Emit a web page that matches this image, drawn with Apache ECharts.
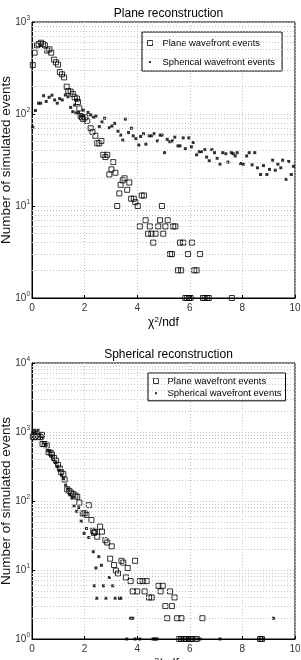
<!DOCTYPE html>
<html><head><meta charset="utf-8">
<script src="https://cdn.jsdelivr.net/npm/echarts@6/dist/echarts.min.js"></script>
<style>html,body{margin:0;padding:0;background:#fff}#c{width:301px;height:660px}</style>
</head><body><div id="c"></div>
<script>
// ---- data: [chi2/ndf, number of simulated events] ----
const titles = ['Plane reconstruction', 'Spherical reconstruction'];
const seriesNames = ['Plane wavefront events', 'Spherical wavefront events'];
const xTickValues = [0, 2, 4, 6, 8, 10];

const topPlane = [
  [0.03,340],[0.10,464],[0.19,558],[0.25,575],[0.34,595],[0.42,575],[0.49,558],[0.58,490],[0.66,505],[0.73,464],
  [0.84,390],[0.91,365],[0.99,345],[1.06,285],[1.14,270],[1.22,250],[1.32,198],[1.38,178],[1.47,175],[1.55,165],
  [1.62,152],[1.71,147],[1.75,135],[1.80,115],[1.85,95],[1.90,92],[1.95,88],[2.03,92],[2.10,84],[2.23,70],
  [2.30,64],[2.41,58],[2.48,48],[2.56,48],[2.64,51],[2.71,36],[2.79,34],[2.86,36],[2.94,22],[3.02,25],
  [3.09,30],[3.17,23],[3.24,10],[3.32,13.7],[3.37,17],[3.45,19],[3.52,20],[3.62,15],[3.70,18],[3.77,12],
  [3.87,12],[3.93,11],[4.02,10],[4.17,13],[4.26,13],[4.94,10],
  [4.10,6],[4.32,7],[4.41,5],[4.48,6],[4.54,5],[4.61,4],[4.70,5],[4.80,6],[4.87,7],[4.99,5],
  [5.07,6],[5.16,7],[5.25,3],[5.32,3],[5.37,6],[5.45,6],[5.55,2],[5.63,4],[5.67,2],[5.75,4],
  [5.93,3],[6.08,4],[6.17,2],[6.26,2],[6.39,3],
  [5.83,1],[5.90,1],[5.97,1],[6.03,1],[6.50,1],[6.57,1],[6.65,1],[6.72,1],[7.60,1]
];
const topSpherical = [
  [0.03,72],[0.13,109],[0.25,131],[0.33,131],[0.44,158],[0.54,137],[0.65,152],[0.76,160],[0.86,142],[0.96,131],
  [1.05,147],[1.15,142],[1.27,161],[1.37,154],[1.47,118],[1.55,106],[1.62,125],[1.67,103],[1.70,142],[1.77,104],
  [1.87,95],[1.95,110],[2.13,104],[2.23,98],[2.33,92],[2.43,95],[2.56,73],[2.66,82],[2.76,90],[2.94,71],
  [3.04,74],[3.14,79],[3.27,65],[3.37,59],[3.45,52],[3.55,88],[3.67,63],[3.78,70],[3.85,58],[3.95,54],
  [4.06,46],[4.13,57],[4.24,61],[4.33,47],[4.46,58],[4.54,58],[4.64,61],[4.77,51],[4.87,59],[4.94,59],
  [5.04,38],[5.14,53],[5.24,50],[5.34,51],[5.43,56],[5.55,45],[5.63,45],[5.75,55],[5.83,42],[5.96,55],
  [6.06,44],[6.13,49],[6.26,36],[6.36,39],[6.44,39],[6.57,41],[6.64,34],[6.74,31],[6.84,41],[6.94,38],
  [7.04,33],[7.15,28.5],[7.25,38],[7.37,37],[7.45,30],[7.58,38],[7.65,37],[7.73,35],[7.80,38],[7.93,29],
  [8.03,28.5],[8.16,35],[8.26,38],[8.37,28],[8.47,38],[8.57,26],[8.69,22],[8.80,27.5],[8.93,22],[9.03,25],
  [9.15,31.5],[9.25,24.5],[9.35,28.5],[9.46,26],[9.53,31.5],[9.66,19.5],[9.76,30.5],[9.86,22],[9.94,27]
];
const bottomPlane = [
  [0.03,855],[0.10,840],[0.16,870],[0.23,855],[0.33,840],[0.38,910],[0.40,670],[0.48,670],[0.56,640],[0.63,510],
  [0.71,500],[0.76,470],[0.84,420],[0.91,385],[0.99,335],[1.06,295],[1.11,262],[1.19,245],[1.24,205],[1.34,148],
  [1.42,140],[1.49,132],[1.57,126],[1.65,120],[1.72,115],[1.80,95],[1.93,66],[2.00,66],[2.07,63],[2.16,87],
  [2.26,53],[2.33,37],[2.36,34.5],[2.40,35.5],[2.48,30.4],[2.59,42.5],[2.66,36],[2.79,27],[2.86,25],[2.97,14.6],
  [3.03,22],[3.12,11.8],[3.19,9.8],[3.27,8.9],[3.40,13.6],[3.47,12.8],[3.57,7.8],[3.64,10.7],[3.75,6.9],[3.83,4.9],
  [3.92,13.6],[4.00,4.9],[4.10,6.9],[4.21,6.9],[4.28,4.9],[4.36,6.9],[4.45,4],[4.55,4],[4.81,5.9],[4.89,4.9],
  [4.97,5.9],[5.07,3],[5.14,2],[5.25,4.9],[5.32,3],[5.42,4],[5.52,2],[5.68,2],[6.48,2],
  [5.60,1],[5.68,1],[5.78,1],[5.85,1],[5.95,1],[6.02,1],[6.10,1],[6.26,1],[8.67,1],[8.74,1]
];
const bottomSpherical = [
  [0.03,980],[0.10,1060],[0.16,1000],[0.23,1060],[0.30,930],[0.36,820],[0.45,700],[0.52,660],[0.60,540],[0.68,520],
  [0.75,450],[0.82,400],[0.90,360],[0.97,320],[1.04,280],[1.12,240],[1.20,210],[1.28,170],[1.36,150],[1.44,123],
  [1.52,110],[1.60,85],[1.70,71],[1.77,80],[1.87,51],[1.98,34],[2.07,40],[2.16,29.6],[2.33,18.4],[2.43,10.7],
  [2.37,5.9],[2.46,3.9],[2.54,15.6],[2.64,11.7],[2.72,5.9],[2.81,3.9],[2.94,7.8],[3.07,5.9],[3.16,3.9],[3.32,3.9],
  [3.38,3.9],[3.75,2],[3.83,2],[9.18,2],
  [3.60,1],[3.92,1],[4.10,1],[4.60,1],[4.65,1],[4.70,1],[4.76,1],[5.63,1],[5.75,1],[5.90,1],
  [6.00,1],[6.15,1],[6.30,1],[6.39,1],[7.15,1],[8.67,1],[8.80,1]
];
const yMaxValues = [1000, 10000];

// ---- styling ----
const FONT = 'Liberation Sans, Arial, sans-serif';
const gridColor = '#c4c4c4';
const chart = echarts.init(document.getElementById('c'), null, {renderer: 'canvas'});

function minorLines(maxV) {
  const out = [];
  for (let d = 1; d < maxV; d *= 10) for (let m = 2; m <= 9; m++) out.push({yAxis: m * d});
  return out;
}
const grids = [
  {left: 32, right: 6, top: 22, height: 276},
  {left: 32, right: 6, top: 363, height: 276}
];
const plainIcon = 'path://M0,0H10V10H0Z';
const smallIcon = 'path://M0,0M10,10M3,3H7V7H3Z';

const option = {
  animation: false,
  backgroundColor: '#fff',
  textStyle: {fontFamily: FONT},
  title: [
    {text: titles[0], left: 163.5, textAlign: 'center', top: 3, textStyle: {fontFamily: FONT, fontSize: 12, fontWeight: 'normal', color: '#000'}},
    {text: titles[1], left: 163.5, textAlign: 'center', top: 344, textStyle: {fontFamily: FONT, fontSize: 12, fontWeight: 'normal', color: '#000'}}
  ],
  legend: [
    {orient: 'vertical', left: 142, top: 32, padding: [5.5, 7, 3.5, 5], itemGap: 8, itemWidth: 15, itemHeight: 5,
     backgroundColor: '#fff', borderColor: '#000', borderWidth: 1, borderRadius: 0,
     textStyle: {fontFamily: FONT, fontSize: 9.4, color: '#000', lineHeight: 11},
     data: [
       {name: seriesNames[0], icon: plainIcon, itemStyle: {color: 'rgba(0,0,0,0)', borderColor: '#000', borderWidth: 1}},
       {name: seriesNames[1], icon: smallIcon, itemStyle: {color: '#000', borderWidth: 0}}
     ]},
    {orient: 'vertical', left: 148, top: 373, padding: [2.5, 4, 2, 5], itemGap: 1.3, itemWidth: 13, itemHeight: 5,
     backgroundColor: '#fff', borderColor: '#000', borderWidth: 1, borderRadius: 0,
     textStyle: {fontFamily: FONT, fontSize: 9.5, color: '#000', lineHeight: 11},
     data: [
       {name: seriesNames[0], icon: plainIcon, itemStyle: {color: 'rgba(0,0,0,0)', borderColor: '#000', borderWidth: 1}},
       {name: seriesNames[1], icon: smallIcon, itemStyle: {color: '#000', borderWidth: 0}}
     ]}
  ],
  grid: grids.map(g => Object.assign({show: true, borderColor: '#000', borderWidth: 1, backgroundColor: 'transparent',
                                      containLabel: false, outerBoundsMode: 'none'}, g)),
  xAxis: [0, 1].map(i => ({
    gridIndex: i, type: 'value', min: xTickValues[0], max: xTickValues[xTickValues.length - 1], interval: 2,
    name: '{a|χ}{s|2}{a|/ndf}', nameLocation: 'middle', nameGap: 18, nameMoveOverlap: false,
    nameTextStyle: {rich: {
      a: {fontFamily: FONT, fontSize: 12, color: '#000', lineHeight: 14},
      s: {fontFamily: FONT, fontSize: 8, color: '#000', lineHeight: 8, verticalAlign: 'top'}
    }},
    axisLine: {show: true, lineStyle: {color: '#000', width: 1}},
    axisTick: {show: true, inside: true, length: 3, lineStyle: {color: '#000'}},
    axisLabel: {fontFamily: FONT, fontSize: 10, color: '#333', margin: 5},
    splitLine: {show: true, lineStyle: {color: gridColor, type: [1, 2], width: 1}}
  })),
  yAxis: [0, 1].map(i => ({
    gridIndex: i, type: 'log', logBase: 10, min: 1, max: yMaxValues[i],
    name: 'Number of simulated events', nameLocation: 'middle', nameGap: 19, nameMoveOverlap: false,
    nameTextStyle: {fontFamily: FONT, fontSize: 13.5, color: '#111'},
    axisLine: {show: true, lineStyle: {color: '#000', width: 1}},
    axisTick: {show: true, inside: true, length: 3, lineStyle: {color: '#000'}},
    axisLabel: {
      margin: 2,
      formatter: v => '{b|10}{s|' + Math.round(Math.log10(v)) + '}',
      rich: {
        b: {fontFamily: FONT, fontSize: 10, color: '#333', lineHeight: 14},
        s: {fontFamily: FONT, fontSize: 6.5, color: '#333', lineHeight: 7, verticalAlign: 'top'}
      }
    },
    splitLine: {show: true, lineStyle: {color: gridColor, type: [1, 2], width: 1}}
  })),
  series: [
    {name: seriesNames[0], type: 'scatter', xAxisIndex: 0, yAxisIndex: 0, data: topPlane, clip: false,
     symbol: 'rect', symbolSize: 5, itemStyle: {color: 'rgba(0,0,0,0)', borderColor: '#000', borderWidth: 1},
     markLine: {silent: true, symbol: 'none', label: {show: false}, lineStyle: {color: gridColor, type: [1, 2], width: 1}, data: minorLines(yMaxValues[0])}},
    {name: seriesNames[1], type: 'scatter', xAxisIndex: 0, yAxisIndex: 0, data: topSpherical, clip: false,
     symbol: 'rect', symbolSize: 3, itemStyle: {color: '#000'}},
    {name: seriesNames[0], type: 'scatter', xAxisIndex: 1, yAxisIndex: 1, data: bottomPlane, clip: false,
     symbol: 'rect', symbolSize: 5, itemStyle: {color: 'rgba(0,0,0,0)', borderColor: '#000', borderWidth: 1},
     markLine: {silent: true, symbol: 'none', label: {show: false}, lineStyle: {color: gridColor, type: [1, 2], width: 1}, data: minorLines(yMaxValues[1])}},
    {name: seriesNames[1], type: 'scatter', xAxisIndex: 1, yAxisIndex: 1, data: bottomSpherical, clip: false,
     symbol: 'rect', symbolSize: 3, itemStyle: {color: '#000'}}
  ]
};
chart.setOption(option);
</script>
</body></html>
